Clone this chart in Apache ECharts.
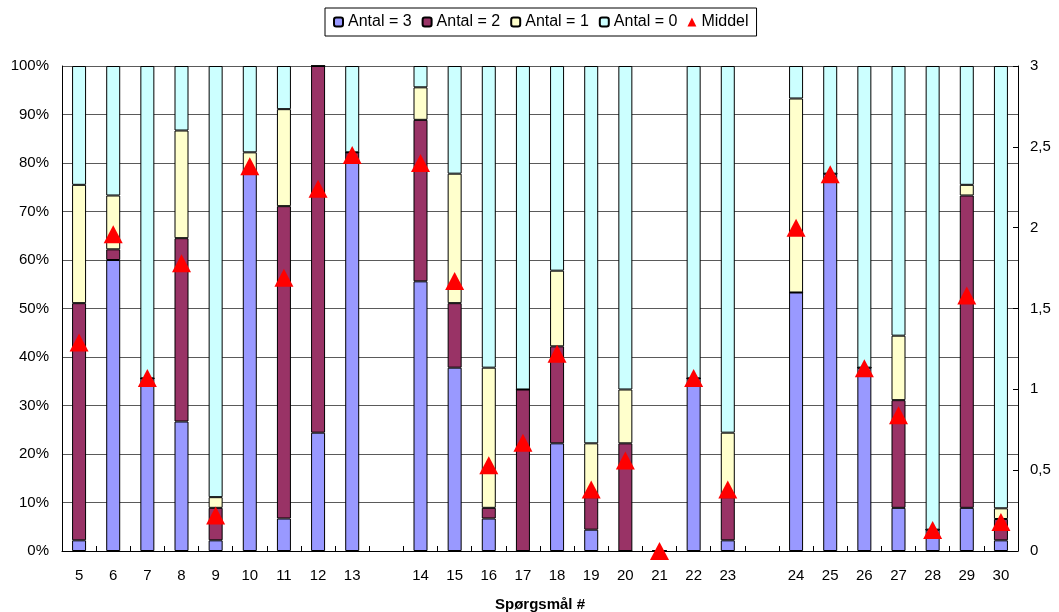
<!DOCTYPE html>
<html>
<head>
<meta charset="utf-8">
<script src="https://cdn.jsdelivr.net/npm/echarts@6/dist/echarts.min.js"></script>
<style>
  html, body { margin: 0; padding: 0; background: #ffffff; }
  #chart { width: 1059px; height: 612px; }
</style>
</head>
<body>
<div id="chart"></div>
<script>
// Question numbers; empty strings leave a blank slot between the question groups
const categories = ['5','6','7','8','9','10','11','12','13','',
  '14','15','16','17','18','19','20','21','22','23','',
  '24','25','26','27','28','29','30'];

// Share of answers (%) per answer value
const antal3 = [2.2, 60.0, 35.6, 26.7, 2.2, 77.8, 6.7, 24.4, 80.0, null,
  55.6, 37.8, 6.7, 0, 22.2, 4.4, 0, 0, 35.6, 2.2, null,
  53.3, 77.8, 37.8, 8.9, 4.4, 8.9, 2.2];
const antal2 = [48.9, 2.2, 0, 37.8, 6.7, 0, 64.4, 75.6, 2.2, null,
  33.3, 13.3, 2.2, 33.3, 20.0, 6.7, 22.2, 0, 0, 8.9, null,
  0, 0, 0, 22.2, 0, 64.4, 4.4];
const antal1 = [24.4, 11.1, 0, 22.2, 2.2, 4.4, 20.0, 0, 0, null,
  6.7, 26.7, 28.9, 0, 15.6, 11.1, 11.1, 0, 0, 13.3, null,
  40.0, 0, 0, 13.3, 0, 2.2, 2.2];
const antal0 = [24.5, 26.7, 64.4, 13.3, 88.9, 17.8, 8.9, 0, 17.8, null,
  4.4, 22.2, 62.2, 66.7, 42.2, 77.8, 66.7, 0, 64.4, 75.6, null,
  6.7, 22.2, 62.2, 55.6, 95.6, 24.5, 91.2];

// Mean answer per question (right axis, 0-3)
const middel = [1.29, 1.96, 1.07, 1.78, 0.22, 2.38, 1.69, 2.24, 2.45, null,
  2.40, 1.67, 0.53, 0.67, 1.22, 0.38, 0.56, 0, 1.07, 0.38, null,
  2.00, 2.33, 1.13, 0.84, 0.13, 1.58, 0.18];

const FONT = "'Liberation Sans', Arial, sans-serif";
const chart = echarts.init(document.getElementById('chart'), null, { renderer: 'canvas' });

function barSeries(name, data, color) {
  return {
    name: name,
    type: 'bar',
    stack: 'andel',
    data: data,
    barWidth: 14,
    itemStyle: { color: color, borderColor: '#000000', borderWidth: 1 },
    emphasis: { disabled: true }
  };
}

chart.setOption({
  animation: false,
  backgroundColor: '#ffffff',
  textStyle: { fontFamily: FONT },
  legend: {
    left: 325,
    top: 8,
    padding: [6, 8, 6, 8],
    borderColor: '#000000',
    borderWidth: 1,
    itemWidth: 9,
    itemHeight: 9,
    itemGap: 10,
    textStyle: { fontFamily: FONT, fontSize: 16, color: '#000000' },
    data: [
      { name: 'Antal = 3' },
      { name: 'Antal = 2' },
      { name: 'Antal = 1' },
      { name: 'Antal = 0' },
      { name: 'Middel', icon: 'triangle', itemStyle: { color: '#ff0000' } }
    ]
  },
  grid: { left: 62, right: 41, top: 66, bottom: 61, containLabel: false, outerBoundsMode: 'none' },
  xAxis: {
    type: 'category',
    data: categories,
    boundaryGap: true,
    name: 'Spørgsmål #',
    nameLocation: 'middle',
    nameGap: 46,
    nameTextStyle: { fontFamily: FONT, fontSize: 15, fontWeight: 'bold', color: '#000000' },
    axisLine: { lineStyle: { color: '#000000', width: 1 } },
    axisTick: { show: true, inside: true, length: 5, interval: 0, lineStyle: { color: '#000000' } },
    axisLabel: { interval: 0, margin: 17, fontFamily: FONT, fontSize: 15, color: '#000000' },
    splitLine: { show: false }
  },
  yAxis: [
    {
      type: 'value',
      min: 0,
      max: 100,
      interval: 10,
      position: 'left',
      axisLine: { show: true, lineStyle: { color: '#000000', width: 1 } },
      axisTick: { show: false },
      axisLabel: { formatter: '{value}%', margin: 13, fontFamily: FONT, fontSize: 15, color: '#000000' },
      splitLine: { show: true, lineStyle: { color: '#5a5a5a', width: 1 } }
    },
    {
      type: 'value',
      min: 0,
      max: 3,
      interval: 0.5,
      position: 'right',
      axisLine: { show: true, lineStyle: { color: '#000000', width: 1 } },
      axisTick: { show: true, inside: true, length: 5, lineStyle: { color: '#000000' } },
      axisLabel: {
        margin: 12,
        fontFamily: FONT,
        fontSize: 15,
        color: '#000000',
        formatter: function (v) { return String(v).replace('.', ','); }
      },
      splitLine: { show: false }
    }
  ],
  series: [
    barSeries('Antal = 3', antal3, '#9999ff'),
    barSeries('Antal = 2', antal2, '#993366'),
    barSeries('Antal = 1', antal1, '#ffffcc'),
    barSeries('Antal = 0', antal0, '#ccffff'),
    {
      name: 'Middel',
      type: 'scatter',
      yAxisIndex: 1,
      data: middel,
      symbol: 'triangle',
      symbolSize: [19, 18],
      itemStyle: { color: '#ff0000', opacity: 1 },
      z: 5,
      emphasis: { disabled: true }
    }
  ]
});
</script>
</body>
</html>
